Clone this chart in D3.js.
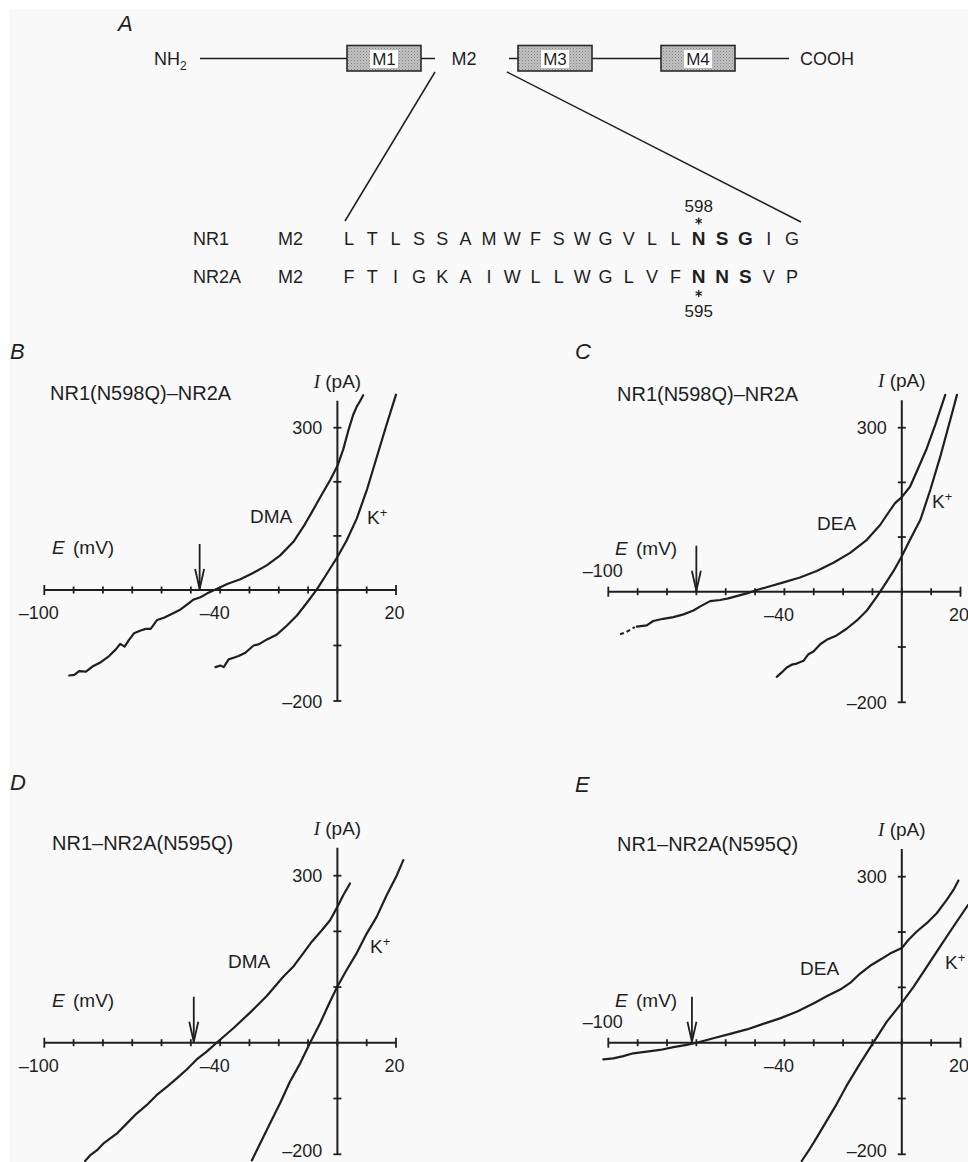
<!DOCTYPE html>
<html>
<head>
<meta charset="utf-8">
<script src="https://cdn.jsdelivr.net/npm/d3@7"></script>
<style>
  html, body { margin: 0; padding: 0; background: #fff; }
  svg { display: block; }
  text { font-family: "Liberation Sans", Arial, Helvetica, sans-serif; fill: #1f1f1f; }
</style>
</head>
<body>
<svg id="fig" width="968" height="1162"></svg>
<script>
// ---------- Panel A: subunit topology and M2 sequences ----------
const domainNames = ["M1", "M3", "M4"];
const nr1Seq  = ["L","T","L","S","S","A","M","W","F","S","W","G","V","L","L","N","S","G","I","G"];
const nr2aSeq = ["F","T","I","G","K","A","I","W","L","L","W","G","L","V","F","N","N","S","V","P"];
const nr1Bold  = [15, 16, 17];
const nr2aBold = [15, 16, 17];
const nr1Site  = "598";
const nr2aSite = "595";

// ---------- Panels B–E: I–V relations, [E (mV), I (pA)] ----------
const eTicks = [-100, -90, -80, -70, -60, -50, -40, -30, -20, -10, 0, 10, 20];
const eTickLabels = [-100, -40, 20];
const iTicks = [-200, -100, 0, 100, 200, 300];
const iTickLabels = [300, -200];

// B: NR1(N598Q)–NR2A, DMA vs K+
const bDMA = [[-91.5,-154],[-89.8,-153],[-88.1,-146],[-85.8,-147],[-83.6,-138],[-80.7,-130],[-77.9,-119],[-75.6,-107],[-74.1,-97],[-72.6,-102],[-71.1,-90],[-69.4,-78],[-67.1,-73],[-65.4,-70],[-63.7,-70],[-61.5,-54],[-59.2,-50],[-56.9,-44],[-53.5,-35],[-51.2,-26],[-49,-17],[-46.7,-13],[-44.4,-6],[-41.6,1],[-37.6,11],[-33.1,20],[-28.6,32],[-24,46],[-19.5,64],[-15,89],[-11.6,117],[-8.7,144],[-5.9,171],[-2.5,203],[0,229],[2,260],[3.7,294],[5.4,324],[6.6,339],[7.7,349],[8.8,360]];
const bK = [[-41.6,-139],[-39.9,-136],[-38.8,-139],[-37.1,-125],[-35.4,-122],[-33.7,-119],[-31.4,-113],[-28.6,-100],[-26.9,-98],[-24,-89],[-20.6,-80],[-17.2,-64],[-13.8,-46],[-10.4,-23],[-7,1],[-4.2,25],[0,61],[3.2,92],[6.6,132],[10,184],[13.4,245],[16.8,306],[20,361]];

// C: NR1(N598Q)–NR2A, DEA vs K+
const cDEAfaint = [[-96,-77],[-93.8,-73],[-91,-64]];
const cDEA = [[-90.3,-63],[-86.9,-61],[-84.7,-53],[-81.3,-49],[-77.8,-46],[-74.4,-41],[-71,-34],[-68.8,-27],[-65.3,-17],[-61.9,-15],[-59.1,-12],[-56.3,-8],[-52.8,-3],[-49.4,3],[-44.9,10],[-40.3,17],[-34.7,26],[-29,38],[-23.3,53],[-17.6,71],[-11.9,95],[-7.4,122],[-4,149],[-2.3,162],[0,173],[2.8,192],[5.1,220],[8.5,262],[11.4,305],[14.8,360]];
const cK = [[-42.6,-154],[-40.9,-146],[-39.2,-137],[-37.5,-132],[-35.8,-130],[-33.5,-125],[-31.8,-113],[-30.1,-108],[-27.8,-95],[-25.6,-87],[-22.2,-79],[-18.8,-67],[-15.3,-52],[-11.9,-34],[-8.5,-9],[-6.3,9],[-2.8,38],[0,65],[2.8,95],[6.3,131],[9.7,186],[13.1,247],[16.5,314],[18.8,360]];

// D: NR1–NR2A(N595Q), DMA vs K+
const dDMA = [[-86.1,-212],[-84.4,-202],[-82.1,-193],[-79.9,-181],[-77.6,-172],[-75.3,-163],[-71.9,-145],[-68.5,-127],[-65.1,-112],[-61.7,-94],[-58.2,-79],[-54.8,-64],[-51.4,-48],[-48,-30],[-44.6,-16],[-41.2,0],[-35.5,26],[-29.8,54],[-24.1,84],[-18.4,119],[-15,137],[-11.6,161],[-8.8,181],[-5.3,202],[-2.5,220],[0,244],[2,265],[4.3,286]];
const dK = [[-29.2,-211],[-26.4,-181],[-23,-145],[-19.6,-109],[-16.2,-70],[-12.7,-37],[-9.3,0],[-5.9,35],[-2.5,74],[0,101],[3.2,131],[6.6,161],[10,196],[13.4,226],[16.8,265],[20.3,301],[22.5,328]];

// E: NR1–NR2A(N595Q), DEA vs K+
const eDEA = [[-101.7,-30],[-98.3,-28],[-94.9,-24],[-91.5,-19],[-86.9,-16],[-82.4,-13],[-77.8,-8],[-73.3,-4],[-69.9,0],[-64.2,8],[-58.5,16],[-52.8,24],[-47.2,34],[-41.5,44],[-35.8,56],[-30.1,71],[-25.6,84],[-21,96],[-17.6,108],[-14.2,125],[-10.8,139],[-7.4,150],[-4,161],[0,171],[2.3,186],[5.1,201],[8.5,216],[11.9,234],[15.3,258],[17.6,276],[19.3,293]];
const eK = [[-34.1,-212],[-31.8,-194],[-29,-170],[-25.6,-140],[-22.2,-110],[-18.8,-77],[-14.2,-37],[-9.7,0],[-5.1,38],[0,72],[4,101],[8.5,137],[13.1,174],[17.6,210],[22.6,249]];

// arrows mark the predicted reversal potential (mV) in B, C, D, E
const panelIds = ["B", "C", "D", "E"];
const panelTitles = ["NR1(N598Q)\u2013NR2A", "NR1(N598Q)\u2013NR2A", "NR1\u2013NR2A(N595Q)", "NR1\u2013NR2A(N595Q)"];
const organicIons = ["DMA", "DEA", "DMA", "DEA"];
const arrowPotentials = [-47, -70, -49, -71.5];

// ---------------------------------------------------------------
const svg = d3.select("#fig");
const INK = "#1f1f1f";
const PAGE_H = 1162;

svg.append("rect").attr("width", 968).attr("height", PAGE_H).attr("fill", "#fff");
svg.append("rect").attr("x", 9).attr("y", 9).attr("width", 959).attr("height", PAGE_H - 9).attr("fill", "#f9f9f9");

// stippled fill for the membrane segments
const defs = svg.append("defs");
const pat = defs.append("pattern").attr("id", "stipple").attr("patternUnits", "userSpaceOnUse")
  .attr("width", 3).attr("height", 3);
pat.append("rect").attr("width", 3).attr("height", 3).attr("fill", "#c2c2c2");
pat.append("rect").attr("x", 0).attr("y", 0).attr("width", 1).attr("height", 1).attr("fill", "#858585");
pat.append("rect").attr("x", 1.5).attr("y", 1.5).attr("width", 1).attr("height", 1).attr("fill", "#969696");

// six-armed asterisk drawn as strokes
function asterisk(g, cx, cy, r) {
  const d = [90, 30, 150].map(a => {
    const t = a * Math.PI / 180, dx = r * Math.cos(t), dy = r * Math.sin(t);
    return `M${cx - dx},${cy - dy}L${cx + dx},${cy + dy}`;
  }).join("");
  g.append("path").attr("d", d).attr("stroke", INK).attr("stroke-width", 1.3).attr("fill", "none");
}

// ---------- Panel A ----------
const gA = svg.append("g");
gA.append("text").attr("x", 118).attr("y", 31).attr("font-size", 22).attr("font-style", "italic").text("A");

const topY = 58.5;
const nh = gA.append("text").attr("x", 154).attr("y", 65).attr("font-size", 18);
nh.append("tspan").text("NH");
nh.append("tspan").attr("font-size", 12).attr("dy", 5).text("2");

// backbone line segments and boxes of the schematic
const boxSpans = [[347, 421], [518, 592], [661, 735]];
const linkSpans = [[200, 347], [421, 435], [509, 518], [592, 661], [735, 789]];
linkSpans.forEach(s => gA.append("line").attr("x1", s[0]).attr("x2", s[1]).attr("y1", topY).attr("y2", topY)
  .attr("stroke", INK).attr("stroke-width", 1.5));
boxSpans.forEach((s, i) => {
  gA.append("rect").attr("x", s[0]).attr("y", 45.5).attr("width", s[1] - s[0]).attr("height", 25.5)
    .attr("fill", "url(#stipple)").attr("stroke", "#2a2a2a").attr("stroke-width", 1.6);
  const cx = (s[0] + s[1]) / 2;
  gA.append("rect").attr("x", cx - 14).attr("y", 50).attr("width", 28).attr("height", 18).attr("fill", "#fff");
  gA.append("text").attr("x", cx).attr("y", 65).attr("font-size", 17).attr("text-anchor", "middle").text(domainNames[i]);
});
gA.append("text").attr("x", 464).attr("y", 65).attr("font-size", 18).attr("text-anchor", "middle").text("M2");
gA.append("text").attr("x", 800).attr("y", 65).attr("font-size", 18).text("COOH");

// expansion lines down to the sequence
gA.append("line").attr("x1", 435).attr("y1", 72).attr("x2", 345).attr("y2", 221).attr("stroke", INK).attr("stroke-width", 1.5);
gA.append("line").attr("x1", 507).attr("y1", 72).attr("x2", 801).attr("y2", 222).attr("stroke", INK).attr("stroke-width", 1.5);

// sequence alignment
const seqX = d3.scalePoint().domain(d3.range(nr1Seq.length)).range([349, 792]);
function seqRow(letters, bold, name, baseline) {
  gA.append("text").attr("x", 193).attr("y", baseline).attr("font-size", 18).text(name);
  gA.append("text").attr("x", 278).attr("y", baseline).attr("font-size", 18).text("M2");
  gA.selectAll(null).data(letters).enter().append("text")
    .attr("x", (d, i) => seqX(i)).attr("y", baseline)
    .attr("text-anchor", "middle")
    .attr("font-size", (d, i) => bold.includes(i) ? 19 : 18)
    .attr("font-weight", (d, i) => bold.includes(i) ? "bold" : "normal")
    .text(d => d);
}
seqRow(nr1Seq, nr1Bold, "NR1", 245);
seqRow(nr2aSeq, nr2aBold, "NR2A", 283);
const siteX = seqX(nr1Bold[0]);
gA.append("text").attr("x", siteX).attr("y", 212).attr("font-size", 17).attr("text-anchor", "middle").text(nr1Site);
asterisk(gA, siteX, 221, 3.6);
asterisk(gA, siteX, 293.5, 3.6);
gA.append("text").attr("x", siteX).attr("y", 317).attr("font-size", 17).attr("text-anchor", "middle").text(nr2aSite);

// ---------- Panels B–E ----------
const layouts = [
  { xr: [44.3, 396], yr: [701, 590, 427.7], letter: [10, 359], title: [50, 399.5], negAbove: false,
    eLab: [52, 554], ionLab: [250, 523], kLab: [367, 524] },
  { xr: [608.3, 960.5], yr: [702.3, 591.7, 427.7], letter: [575, 359], title: [617, 401], negAbove: true,
    eLab: [615, 555], ionLab: [817, 530], kLab: [932, 508] },
  { xr: [44.3, 396], yr: [1154.3, 1042.7, 875.7], letter: [10, 790], title: [52, 850], negAbove: false,
    eLab: [52, 1006.5], ionLab: [228, 968], kLab: [370, 953] },
  { xr: [608.3, 960.5], yr: [1154.3, 1042.7, 876.7], letter: [575, 792], title: [617, 851], negAbove: true,
    eLab: [615, 1006.5], ionLab: [800, 975], kLab: [945, 969] }
];
const ionCurves = [bDMA, cDEA, dDMA, eDEA];
const kCurves = [bK, cK, dK, eK];

layouts.forEach((L, k) => {
  const g = svg.append("g");
  const x = d3.scaleLinear().domain([-100, 20]).range(L.xr);
  const y = d3.scaleLinear().domain([-200, 0, 300]).range(L.yr);
  const y0 = y(0), x0 = x(0);

  g.append("text").attr("x", L.letter[0]).attr("y", L.letter[1]).attr("font-size", 22)
    .attr("font-style", "italic").text(panelIds[k]);
  g.append("text").attr("x", L.title[0]).attr("y", L.title[1]).attr("font-size", 20).text(panelTitles[k]);

  // E axis with crossing ticks
  g.append("line").attr("x1", x(-100)).attr("x2", x(20)).attr("y1", y0).attr("y2", y0)
    .attr("stroke", INK).attr("stroke-width", 2);
  g.selectAll(null).data(eTicks).enter().append("line")
    .attr("x1", d => x(d)).attr("x2", d => x(d))
    .attr("y1", d => y0 - (d === -100 || d === 20 ? 5 : 3.5))
    .attr("y2", d => y0 + (d === -100 || d === 20 ? 5 : 3.5))
    .attr("stroke", INK).attr("stroke-width", 1.8);
  g.selectAll(null).data(eTickLabels).enter().append("text")
    .attr("x", d => x(d) + (d < 0 ? -5.5 : -1.5))
    .attr("y", d => (d === -100 && L.negAbove) ? y0 - 14.5 : y0 + 29)
    .attr("font-size", 18).attr("text-anchor", "middle")
    .text(d => d < 0 ? "\u2013" + Math.abs(d) : d);

  // I axis with crossing ticks
  g.append("line").attr("x1", x0).attr("x2", x0).attr("y1", y(-200)).attr("y2", y(350))
    .attr("stroke", INK).attr("stroke-width", 2);
  g.selectAll(null).data(iTicks.filter(d => d !== 0)).enter().append("line")
    .attr("x1", x0 - 4).attr("x2", x0 + 4).attr("y1", d => y(d)).attr("y2", d => y(d))
    .attr("stroke", INK).attr("stroke-width", 1.8);
  g.selectAll(null).data(iTickLabels).enter().append("text")
    .attr("x", x0 - 15).attr("y", d => Math.min(y(d) + 6.5, PAGE_H - 5))
    .attr("font-size", 18).attr("text-anchor", "end")
    .text(d => d < 0 ? "\u2013" + Math.abs(d) : d);

  // axis titles
  const it = g.append("text").attr("x", x0).attr("y", y(350) - 13).attr("font-size", 19).attr("text-anchor", "middle");
  it.append("tspan").attr("font-family", "'Liberation Serif', 'Times New Roman', serif").attr("font-style", "italic").text("I");
  it.append("tspan").text(" (pA)");
  g.append("text").attr("x", L.eLab[0]).attr("y", L.eLab[1]).attr("font-size", 19).attr("font-style", "italic").text("E");
  g.append("text").attr("x", L.eLab[0] + 21).attr("y", L.eLab[1]).attr("font-size", 19).text("(mV)");

  // current traces
  const line = d3.line().x(d => x(d[0])).y(d => y(d[1]));
  [ionCurves[k], kCurves[k]].forEach(c => {
    g.append("path").attr("d", line(c)).attr("fill", "none").attr("stroke", INK)
      .attr("stroke-width", 2.2).attr("stroke-linejoin", "round").attr("stroke-linecap", "round");
  });
  if (k === 1) {
    g.append("path").attr("d", line(cDEAfaint)).attr("fill", "none").attr("stroke", INK)
      .attr("stroke-width", 2).attr("stroke-dasharray", "4,3");
  }

  // trace labels
  g.append("text").attr("x", L.ionLab[0]).attr("y", L.ionLab[1]).attr("font-size", 19).text(organicIons[k]);
  const kt = g.append("text").attr("x", L.kLab[0]).attr("y", L.kLab[1]).attr("font-size", 19);
  kt.append("tspan").text("K");
  kt.append("tspan").attr("font-size", 13).attr("dy", -7).text("+");

  // reversal-potential arrow
  const ax = x(arrowPotentials[k]);
  g.append("line").attr("x1", ax).attr("x2", ax).attr("y1", y0 - 46).attr("y2", y0 - 1)
    .attr("stroke", INK).attr("stroke-width", 1.8);
  g.append("path").attr("d", `M${ax - 4.5},${y0 - 21} L${ax},${y0 - 1} L${ax + 4.5},${y0 - 21}`)
    .attr("fill", "none").attr("stroke", INK).attr("stroke-width", 1.8).attr("stroke-linejoin", "miter");
});
</script>
</body>
</html>
